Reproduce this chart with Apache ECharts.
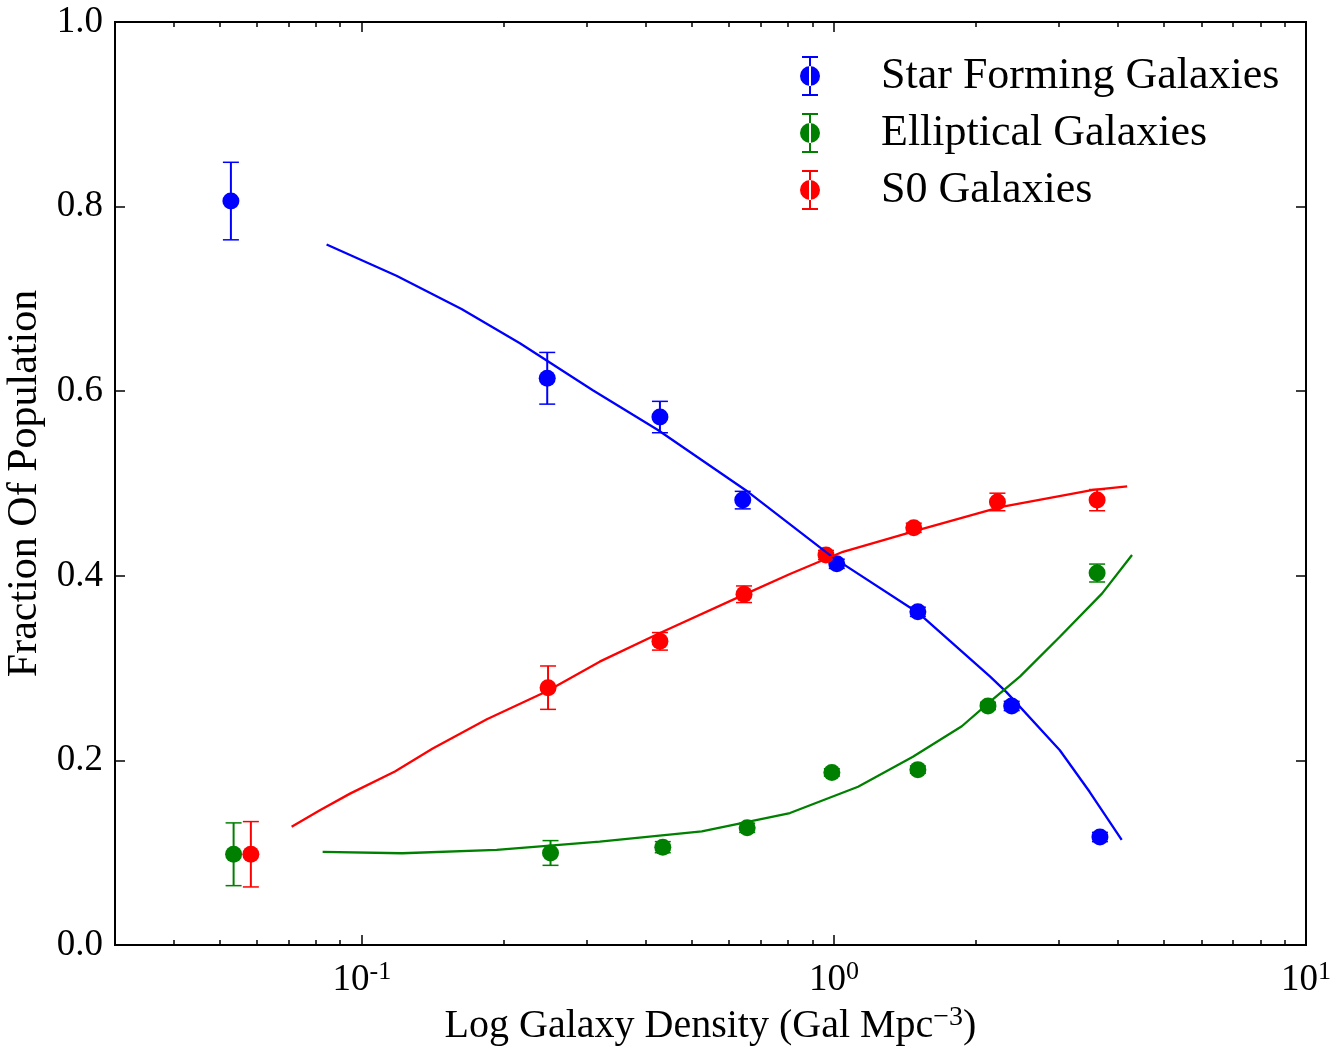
<!DOCTYPE html>
<html>
<head>
<meta charset="utf-8">
<script src="https://cdn.jsdelivr.net/npm/echarts@6/dist/echarts.min.js"></script>
<style>
html,body{margin:0;padding:0;background:#fff;}
#chart{width:1343px;height:1048px;}
</style>
</head>
<body>
<div id="chart"></div>
<script>
// ---- data ----
const seriesNames = ['Star Forming Galaxies', 'Elliptical Galaxies', 'S0 Galaxies'];

const sfX   = [0.0528, 0.247, 0.428, 0.641, 1.014, 1.506, 2.38, 3.66];
const sfY   = [0.806, 0.614, 0.572, 0.482, 0.413, 0.361, 0.259, 0.117];
const sfErr = [0.042, 0.028, 0.017, 0.0095, 0.005, 0.005, 0.005, 0.005];

const elX   = [0.0535, 0.251, 0.434, 0.655, 0.99, 1.506, 2.12, 3.61];
const elY   = [0.0983, 0.0997, 0.106, 0.127, 0.187, 0.190, 0.259, 0.403];
const elErr = [0.034, 0.0134, 0.006, 0.005, 0.004, 0.004, 0.004, 0.0097];

const s0X   = [0.0582, 0.248, 0.428, 0.645, 0.962, 1.476, 2.22, 3.61];
const s0Y   = [0.0983, 0.2788, 0.329, 0.380, 0.4225, 0.452, 0.480, 0.482];
const s0Err = [0.0354, 0.0235, 0.0095, 0.009, 0.005, 0.005, 0.0095, 0.0115];

const sfModelX = [0.0842, 0.1184, 0.1626, 0.2162, 0.3085, 0.4238, 0.6574, 0.995, 1.507, 2.14, 2.32, 3.01, 3.48, 4.07];
const sfModelY = [0.759, 0.725, 0.689, 0.652, 0.601, 0.558, 0.491, 0.420, 0.360, 0.291, 0.274, 0.211, 0.166, 0.114];

const elModelX = [0.0826, 0.1217, 0.193, 0.319, 0.525, 0.807, 1.125, 1.47, 1.866, 2.17, 2.48, 3.01, 3.70, 4.28];
const elModelY = [0.101, 0.0994, 0.103, 0.112, 0.123, 0.143, 0.1715, 0.204, 0.237, 0.266, 0.291, 0.334, 0.381, 0.4225];

const s0ModelX = [0.0710, 0.0815, 0.0944, 0.1175, 0.1413, 0.184, 0.2466, 0.319, 0.428, 0.654, 0.807, 1.045, 1.52, 2.25, 3.54, 4.18];
const s0ModelY = [0.128, 0.146, 0.164, 0.188, 0.213, 0.2445, 0.275, 0.307, 0.338, 0.381, 0.402, 0.426, 0.450, 0.4745, 0.493, 0.497];

const xMajorTicks = [0.1, 1, 10];
const xMinorTicks = [0.04, 0.05, 0.06, 0.07, 0.08, 0.09, 0.2, 0.3, 0.4, 0.5, 0.6, 0.7, 0.8, 0.9, 2, 3, 4, 5, 6, 7, 8, 9];
const xTickLabels = {0.1: '-1', 1: '0', 10: '1'};

// ---- chart ----
const colors = ['#0000ff', '#008000', '#ff0000'];
const FONT = 'Liberation Serif';
const zip = (xs, ys) => xs.map((x, i) => [x, ys[i]]);
const zip3 = (xs, ys, es) => xs.map((x, i) => [x, ys[i], es[i]]);

const legendIcon = 'path://M2,0H18V2H2Z M9,0H11V40H9Z M2,38H18V40H2Z M0,20A10,10 0 1,0 20,20A10,10 0 1,0 0,20Z';

function errorSeries(data, color) {
  return {
    type: 'custom',
    name: 'err',
    data: data,
    encode: {x: 0, y: 1},
    z: 3,
    silent: true,
    renderItem: function (params, api) {
      const x = api.value(0), y = api.value(1), e = api.value(2);
      const top = api.coord([x, y + e]);
      const bot = api.coord([x, y - e]);
      const hw = 8;
      const st = {stroke: color, lineWidth: 2};
      const stc = {stroke: color, lineWidth: 1.5};
      return {
        type: 'group',
        children: [
          {type: 'line', shape: {x1: top[0], y1: top[1], x2: bot[0], y2: bot[1]}, style: st},
          {type: 'line', shape: {x1: top[0] - hw, y1: top[1], x2: top[0] + hw, y2: top[1]}, style: stc},
          {type: 'line', shape: {x1: bot[0] - hw, y1: bot[1], x2: bot[0] + hw, y2: bot[1]}, style: stc}
        ]
      };
    }
  };
}
function pointSeries(name, data, color) {
  return {type: 'scatter', name: name, data: data, symbol: 'circle', symbolSize: 17,
          itemStyle: {color: color, opacity: 1}, z: 4, silent: true};
}
function modelSeries(data, color) {
  return {type: 'line', name: 'model', data: data, showSymbol: false, symbol: 'none',
          lineStyle: {color: color, width: 2.3}, itemStyle: {color: color}, z: 5, silent: true, animation: false};
}

const logAxisBase = {
  type: 'log', logBase: 10, min: 0.03, max: 10, gridIndex: 0,
  axisLine: {show: false}, splitLine: {show: false}
};

const option = {
  animation: false,
  backgroundColor: '#ffffff',
  grid: {left: 115, right: 37, top: 22, bottom: 103, containLabel: false, outerBoundsMode: 'none',
         show: true, borderColor: '#000', borderWidth: 2, backgroundColor: 'transparent'},
  legend: {
    orient: 'vertical', left: 795, top: 49, padding: 5, itemWidth: 20, itemHeight: 42, itemGap: 13,
    data: seriesNames.map(n => ({name: n, icon: legendIcon})),
    textStyle: {fontFamily: FONT, fontSize: 44, lineHeight: 42, color: '#000', padding: [0, 0, 0, 56]},
    selectedMode: false
  },
  xAxis: [
    Object.assign({}, logAxisBase, {
      position: 'bottom',
      name: 'Log Galaxy Density (Gal Mpc{sup|−3})',
      nameLocation: 'middle', nameGap: 56,
      nameTextStyle: {fontFamily: FONT, fontSize: 40, color: '#000',
        rich: {sup: {fontFamily: FONT, fontSize: 28, color: '#000', verticalAlign: 'top', padding: [0, 0, 18, 0]}}},
      axisTick: {show: true, inside: true, length: 10, lineStyle: {color: '#000', width: 1.5}, customValues: xMajorTicks},
      axisLabel: {show: true, margin: 14, customValues: xMajorTicks, fontFamily: FONT, fontSize: 37, color: '#000',
        formatter: v => '10{sup|' + (xTickLabels[+v.toPrecision(3)] || '') + '}',
        rich: {sup: {fontFamily: FONT, fontSize: 26, color: '#000', padding: [0, 0, 16, 0]}}}
    }),
    Object.assign({}, logAxisBase, {
      position: 'bottom',
      axisTick: {show: true, inside: true, length: 5, lineStyle: {color: '#000', width: 1.5}, customValues: xMinorTicks},
      axisLabel: {show: false}
    }),
    Object.assign({}, logAxisBase, {
      position: 'top',
      axisTick: {show: true, inside: true, length: 10, lineStyle: {color: '#000', width: 1.5}, customValues: xMajorTicks},
      axisLabel: {show: false}
    }),
    Object.assign({}, logAxisBase, {
      position: 'top',
      axisTick: {show: true, inside: true, length: 5, lineStyle: {color: '#000', width: 1.5}, customValues: xMinorTicks},
      axisLabel: {show: false}
    })
  ],
  yAxis: [
    {
      type: 'value', min: 0, max: 1, interval: 0.2, position: 'left',
      name: 'Fraction Of Population', nameLocation: 'middle', nameGap: 69, nameRotate: 90,
      nameTextStyle: {fontFamily: FONT, fontSize: 42, color: '#000'},
      axisLine: {show: false}, splitLine: {show: false},
      axisTick: {show: true, inside: true, length: 10, lineStyle: {color: '#000', width: 1.5}},
      axisLabel: {margin: 12, fontFamily: FONT, fontSize: 37, color: '#000', formatter: v => v.toFixed(1)}
    },
    {
      type: 'value', min: 0, max: 1, interval: 0.2, position: 'right',
      axisLine: {show: false}, splitLine: {show: false},
      axisTick: {show: true, inside: true, length: 10, lineStyle: {color: '#000', width: 1.5}},
      axisLabel: {show: false}
    }
  ],
  series: [
    errorSeries(zip3(sfX, sfY, sfErr), colors[0]),
    pointSeries(seriesNames[0], zip(sfX, sfY), colors[0]),
    modelSeries(zip(sfModelX, sfModelY), colors[0]),
    errorSeries(zip3(elX, elY, elErr), colors[1]),
    pointSeries(seriesNames[1], zip(elX, elY), colors[1]),
    modelSeries(zip(elModelX, elModelY), colors[1]),
    errorSeries(zip3(s0X, s0Y, s0Err), colors[2]),
    pointSeries(seriesNames[2], zip(s0X, s0Y), colors[2]),
    modelSeries(zip(s0ModelX, s0ModelY), colors[2])
  ]
};

const chart = echarts.init(document.getElementById('chart'), null, {renderer: 'canvas'});
chart.setOption(option);
</script>
</body>
</html>
